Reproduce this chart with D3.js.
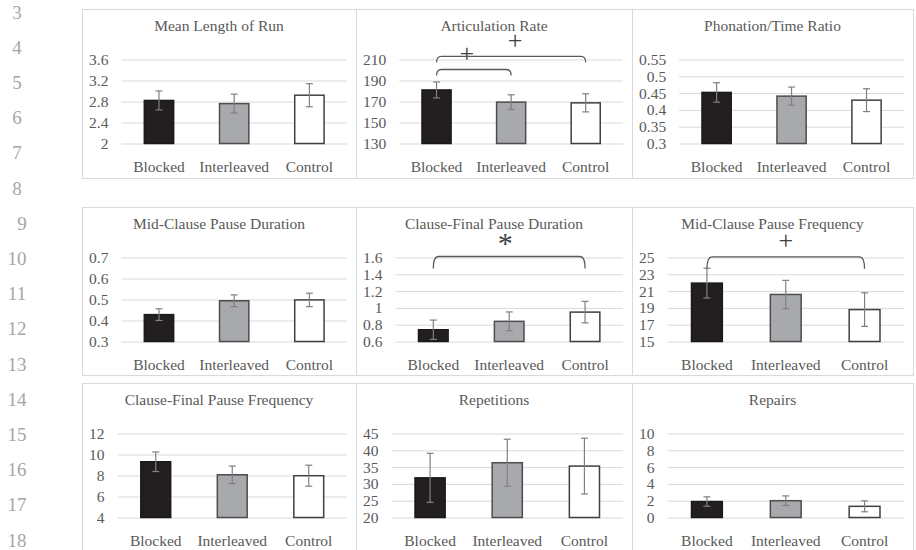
<!DOCTYPE html>
<html>
<head>
<meta charset="utf-8">
<script src="https://cdn.jsdelivr.net/npm/d3@7"></script>
<style>
  body { margin: 0; background: #fff; }
  svg { display: block; }
  svg text { font-family: "Liberation Serif", serif; }
</style>
</head>
<body>
<div id="chart"></div>
<script>
// categories shared by every panel
const categories = ['Blocked', 'Interleaved', 'Control'];

// panel titles, row by row
const titles = [
  'Mean Length of Run', 'Articulation Rate', 'Phonation/Time Ratio',
  'Mid-Clause Pause Duration', 'Clause-Final Pause Duration', 'Mid-Clause Pause Frequency',
  'Clause-Final Pause Frequency', 'Repetitions', 'Repairs'
];

// means, error bars and y tick labels for each measure
const mlrMean = [2.82, 2.76, 2.92],   mlrErr = [0.18, 0.18, 0.22],   mlrTicks = [2, 2.4, 2.8, 3.2, 3.6];
const arMean = [181, 169.4, 168.7],   arErr = [7.6, 7, 8.6],          arTicks = [130, 150, 170, 190, 210];
const ptrMean = [0.452, 0.441, 0.429], ptrErr = [0.029, 0.027, 0.034], ptrTicks = [0.3, 0.35, 0.4, 0.45, 0.5, 0.55];
const mcpdMean = [0.428, 0.494, 0.498], mcpdErr = [0.028, 0.028, 0.032], mcpdTicks = [0.3, 0.4, 0.5, 0.6, 0.7];
const cfpdMean = [0.74, 0.84, 0.95],  cfpdErr = [0.115, 0.112, 0.128], cfpdTicks = [0.6, 0.8, 1, 1.2, 1.4, 1.6];
const mcpfMean = [21.95, 20.6, 18.8], mcpfErr = [1.77, 1.68, 2.0],    mcpfTicks = [15, 17, 19, 21, 23, 25];
const cfpfMean = [9.31, 8.07, 7.98],  cfpfErr = [0.93, 0.83, 1.0],    cfpfTicks = [4, 6, 8, 10, 12];
const repMean = [31.8, 36.3, 35.3],   repErr = [7.3, 7.0, 8.3],       repTicks = [20, 25, 30, 35, 40, 45];
const rprMean = [1.9, 2.0, 1.33],     rprErr = [0.56, 0.57, 0.65],    rprTicks = [0, 2, 4, 6, 8, 10];

// significance brackets (level in data units of the panel)
const brackets = [
  { panel: 1, from: 'Blocked', to: 'Interleaved', level: 200.5, mark: '+', drop: 6, shift: -7 },
  { panel: 1, from: 'Blocked', to: 'Control', level: 212.9, mark: '+', drop: 6, shift: 4 },
  { panel: 4, from: 'Blocked', to: 'Control', level: 1.612, mark: '*', drop: 12, shift: -4 },
  { panel: 5, from: 'Blocked', to: 'Control', level: 25.08, mark: '+', drop: 12, shift: 0 }
];

// manuscript line numbers down the left margin
const lineNums = d3.range(3, 19);

const panels = [
  [mlrMean, mlrErr, mlrTicks], [arMean, arErr, arTicks], [ptrMean, ptrErr, ptrTicks],
  [mcpdMean, mcpdErr, mcpdTicks], [cfpdMean, cfpdErr, cfpdTicks], [mcpfMean, mcpfErr, mcpfTicks],
  [cfpfMean, cfpfErr, cfpfTicks], [repMean, repErr, repTicks], [rprMean, rprErr, rprTicks]
].map((p, i) => ({ title: titles[i], mean: p[0], err: p[1], ticks: p[2] }));

const width = 916, height = 550;
const colX = [82, 356, 632, 913];
const rowY = [[9, 178], [207, 375], [383, 560]];

const fills = { Blocked: '#231f20', Interleaved: '#a7a9ac', Control: '#ffffff' };
const strokes = { Blocked: '#1a1a1a', Interleaved: '#4d4d4d', Control: '#404040' };
const textCol = '#595959';
const serif = '"Liberation Serif", serif';

const svg = d3.select('#chart').append('svg')
  .attr('width', width)
  .attr('height', height)
  .attr('font-family', serif);

svg.append('rect').attr('width', width).attr('height', height).attr('fill', '#fff');

// line numbers
const ln = d3.scaleLinear().domain([3, 18]).range([12, 540]);
svg.selectAll('text.ln')
  .data(lineNums)
  .enter().append('text')
  .attr('class', 'ln')
  .attr('x', d => d === 9 ? 22 : 17)
  .attr('y', d => ln(d))
  .attr('dy', '0.35em')
  .attr('text-anchor', 'middle')
  .style('font-family', serif)
  .style('font-size', '19px')
  .style('fill', '#a6a6a6')
  .text(d => d);

const scales = [];

panels.forEach((p, i) => {
  const r = Math.floor(i / 3), c = i % 3;
  const x0 = colX[c], x1 = colX[c + 1];
  const y0 = rowY[r][0], y1 = rowY[r][1];
  const g = svg.append('g');

  g.append('rect')
    .attr('x', x0 + 0.5).attr('y', y0 + 0.5)
    .attr('width', x1 - x0).attr('height', y1 - y0)
    .attr('fill', '#fff')
    .attr('stroke', '#d9d9d9');

  g.append('text')
    .attr('x', (x0 + x1) / 2)
    .attr('y', y0 + 17)
    .attr('dy', '0.35em')
    .attr('text-anchor', 'middle')
    .style('font-family', serif)
    .style('font-size', '15.5px')
    .style('fill', textCol)
    .text(p.title);

  // measure widest tick label to place the plot like Excel does
  const tmp = g.append('g');
  let maxW = 0;
  p.ticks.forEach(t => {
    const n = tmp.append('text')
      .style('font-family', serif).style('font-size', '15.5px')
      .text(String(t)).node();
    maxW = Math.max(maxW, n.getComputedTextLength());
  });
  tmp.remove();

  const plotL = x0 + 7 + maxW + 13;
  const plotR = x1 - 9;
  const plotT = y0 + 50.5, plotB = y0 + 134.5;

  const y = d3.scaleLinear()
    .domain([p.ticks[0], p.ticks[p.ticks.length - 1]])
    .range([plotB, plotT]);

  const x = d3.scaleBand()
    .domain(categories)
    .range([plotL, plotR])
    .paddingInner(0.59)
    .paddingOuter(0.295);

  scales[i] = { x, y };

  const yAxis = d3.axisLeft(y)
    .tickValues(p.ticks)
    .tickSize(-(plotR - plotL))
    .tickPadding(13)
    .tickFormat(d => String(d));

  const ya = g.append('g')
    .attr('transform', 'translate(' + plotL + ',0)')
    .call(yAxis)
    .attr('font-family', serif);
  ya.select('.domain').remove();
  ya.selectAll('line').attr('stroke', '#d9d9d9').attr('stroke-width', 1);
  ya.selectAll('text')
    .style('font-family', serif)
    .style('font-size', '15.5px')
    .style('fill', textCol);

  const xa = g.append('g')
    .attr('transform', 'translate(0,' + plotB + ')')
    .call(d3.axisBottom(x).tickSize(0))
    .attr('font-family', serif);
  xa.select('.domain').remove();
  xa.selectAll('text')
    .attr('y', 23)
    .attr('dy', '0.35em')
    .style('font-family', serif)
    .style('font-size', '15.5px')
    .style('fill', textCol);

  const data = categories.map((cat, k) => ({ cat, m: p.mean[k], e: p.err[k] }));

  g.selectAll('rect.bar')
    .data(data)
    .enter().append('rect')
    .attr('class', 'bar')
    .attr('x', d => x(d.cat) + 0.75)
    .attr('y', d => y(d.m))
    .attr('width', x.bandwidth() - 1.5)
    .attr('height', d => plotB - y(d.m))
    .attr('fill', d => fills[d.cat])
    .attr('stroke', d => strokes[d.cat])
    .attr('stroke-width', 1.5);

  const eb = g.selectAll('g.err')
    .data(data)
    .enter().append('g')
    .attr('class', 'err')
    .attr('stroke', '#808080')
    .attr('stroke-width', 1.2);

  const cx = d => x(d.cat) + x.bandwidth() / 2;
  eb.append('line')
    .attr('x1', cx).attr('x2', cx)
    .attr('y1', d => y(d.m - d.e)).attr('y2', d => y(d.m + d.e));
  eb.append('line')
    .attr('x1', d => cx(d) - 3.5).attr('x2', d => cx(d) + 3.5)
    .attr('y1', d => y(d.m + d.e)).attr('y2', d => y(d.m + d.e));
  eb.append('line')
    .attr('x1', d => cx(d) - 3.5).attr('x2', d => cx(d) + 3.5)
    .attr('y1', d => y(d.m - d.e)).attr('y2', d => y(d.m - d.e));
});

// significance brackets
brackets.forEach(b => {
  const { x, y } = scales[b.panel];
  const xa = x(b.from) + x.bandwidth() / 2;
  const xb = x(b.to) + x.bandwidth() / 2;
  const yt = y(b.level);
  const rr = 5;
  const path = d3.path();
  path.moveTo(xa, yt + b.drop);
  path.quadraticCurveTo(xa, yt, xa + rr, yt);
  path.lineTo(xb - rr, yt);
  path.quadraticCurveTo(xb, yt, xb, yt + b.drop);
  svg.append('path')
    .attr('d', path.toString())
    .attr('fill', 'none')
    .attr('stroke', '#595959')
    .attr('stroke-width', 1.3);

  const star = b.mark === '*';
  const fs = star ? 30 : 26;
  // glyph centre sits this far above the baseline
  const off = star ? 0.53 * fs : 0.25 * fs;
  const lift = star ? 19 : 14;
  svg.append('text')
    .attr('x', (xa + xb) / 2 + b.shift)
    .attr('y', yt - lift + off)
    .attr('text-anchor', 'middle')
    .style('font-family', serif)
    .style('font-size', fs + 'px')
    .style('fill', '#404040')
    .text(b.mark);
});
</script>
</body>
</html>
